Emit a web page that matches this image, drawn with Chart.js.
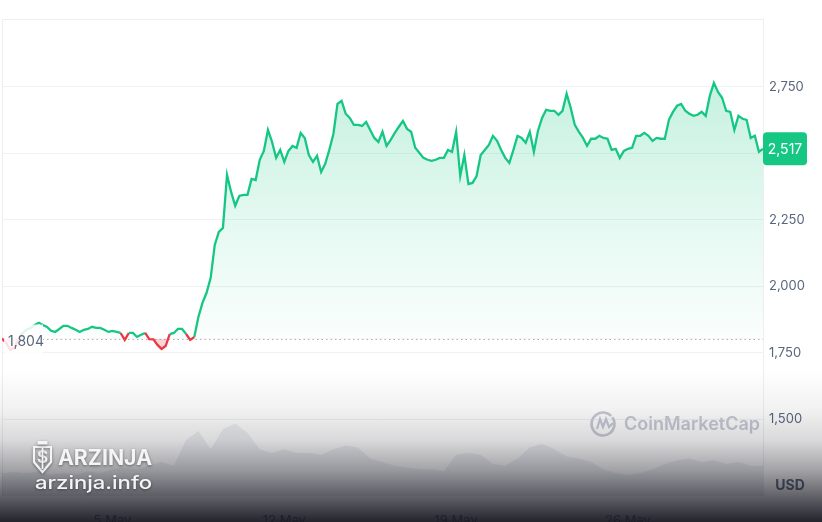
<!DOCTYPE html>
<html>
<head>
<meta charset="utf-8">
<script src="https://cdn.jsdelivr.net/npm/chart.js@4.4.1/dist/chart.umd.min.js"></script>
<style>
  html, body { margin: 0; padding: 0; background: #fff; }
  canvas { display: block; }
</style>
</head>
<body>
<canvas id="ethChart" width="822" height="522"></canvas>
<script>
// prix ETH/USD, un point toutes les 4 heures (30 avr 12h -> 31 mai 12h)
const basePrice = 1804;
const lastPrice = 2517;
const stepHours = 4;
const prices = [
  1804, 1788, 1761, 1769, 1799, 1825, 1837, 1844, 1855, 1863,
  1855, 1848, 1833, 1829, 1840, 1852, 1852, 1844, 1837, 1829,
  1837, 1840, 1848, 1844, 1844, 1837, 1829, 1833, 1829, 1825,
  1799, 1825, 1825, 1810, 1818, 1825, 1802, 1801, 1780, 1765,
  1776, 1821, 1825, 1840, 1840, 1821, 1799, 1810, 1885, 1938,
  1976, 2032, 2156, 2205, 2220, 2419, 2355, 2303, 2340, 2344,
  2344, 2404, 2400, 2476, 2509, 2588, 2543, 2483, 2513, 2468,
  2509, 2528, 2521, 2577, 2558, 2494, 2468, 2491, 2430, 2461,
  2513, 2573, 2686, 2697, 2649, 2633, 2607, 2607, 2603, 2618,
  2588, 2558, 2543, 2581, 2528, 2551, 2577, 2600, 2622, 2592,
  2581, 2521, 2502, 2483, 2476, 2472, 2476, 2483, 2483, 2513,
  2506, 2581, 2415, 2494, 2385, 2389, 2415, 2494, 2513, 2532,
  2566, 2547, 2513, 2483, 2464, 2513, 2566, 2558, 2540, 2581,
  2506, 2585, 2633, 2664, 2660, 2660, 2645, 2660, 2724, 2671,
  2607, 2581, 2558, 2528, 2555, 2555, 2566, 2558, 2555, 2513,
  2517, 2483, 2509, 2517, 2521, 2566, 2566, 2577, 2566, 2547,
  2558, 2555, 2555, 2626, 2656, 2679, 2686, 2660, 2649, 2641,
  2645, 2656, 2641, 2716, 2765, 2731, 2709, 2660, 2656, 2588,
  2641, 2630, 2626, 2558, 2566, 2506, 2517
];

// volume (milliards USD), un point toutes les 12 heures
const volStepHours = 12;
const volumes = [
  12, 12.6, 12, 13, 11, 12, 11, 13, 12, 14,
  15, 14, 16, 18, 16, 30, 35, 25, 36, 39,
  34, 25, 23, 25, 23, 23, 22, 25, 27, 26,
  20, 18, 16, 15, 14, 14, 13, 22, 23, 22,
  17, 16, 20, 26, 28, 25, 21, 20, 18, 14,
  12, 11, 12, 14, 17, 19, 20, 18, 19, 17,
  18, 16, 16
];

const xTickHours = [108, 276, 444, 612];
const xTickLabels = ['5 May', '12 May', '19 May', '26 May'];
const yTicks = [1500, 1750, 2000, 2250, 2500, 2750];

const green = '#16c784';
const red = '#ea3943';
const axisGrey = '#58667e';
const fontFamily = 'Inter, "Noto Sans", sans-serif';

const priceData = prices.map((p, i) => ({ x: i * stepHours, y: p }));
const volData = volumes.map((v, i) => ({ x: i * volStepHours, y: v }));

// cadre, filigrane et ligne de base
const decorPlugin = {
  id: 'decor',
  beforeDatasetsDraw(chart) {
    const { ctx, chartArea: a, scales } = chart;
    ctx.save();
    ctx.strokeStyle = '#eceef2';
    ctx.lineWidth = 1;
    ctx.strokeRect(a.left + 0.5, a.top + 0.5, a.right - a.left, a.bottom - a.top);

    // CoinMarketCap
    ctx.strokeStyle = '#c6cad4';
    ctx.fillStyle = '#c6cad4';
    ctx.lineWidth = 2.6;
    ctx.beginPath();
    ctx.arc(603, 424, 11.5, -0.2 * Math.PI, 1.75 * Math.PI, false);
    ctx.stroke();
    ctx.lineWidth = 2.2;
    ctx.beginPath();
    ctx.moveTo(597, 429);
    ctx.lineTo(600, 419);
    ctx.lineTo(603, 427);
    ctx.lineTo(606, 419);
    ctx.lineTo(609, 427);
    ctx.lineTo(613, 423);
    ctx.stroke();
    ctx.font = '600 18px ' + fontFamily;
    ctx.textBaseline = 'middle';
    ctx.fillText('CoinMarketCap', 624, 425);

    // ligne pointillée du prix d'ouverture
    const yb = Math.round(scales.y.getPixelForValue(basePrice)) + 0.5;
    ctx.strokeStyle = '#a6b0c3';
    ctx.lineWidth = 1;
    ctx.setLineDash([1.5, 3]);
    ctx.beginPath();
    ctx.moveTo(a.left, yb);
    ctx.lineTo(a.right, yb);
    ctx.stroke();
    ctx.restore();
  },
  afterDatasetsDraw(chart) {
    const { ctx, chartArea: a, scales } = chart;
    ctx.save();
    // étiquette 1,804
    const yb = scales.y.getPixelForValue(basePrice);
    ctx.fillStyle = 'rgba(255,255,255,0.85)';
    ctx.fillRect(4, yb - 14, 39, 30);
    ctx.fillStyle = axisGrey;
    ctx.font = '14px ' + fontFamily;
    ctx.textBaseline = 'middle';
    ctx.textAlign = 'left';
    ctx.fillText(basePrice.toLocaleString('en-US'), 8, yb + 3);

    // étiquette du dernier prix
    const yl = scales.y.getPixelForValue(lastPrice);
    ctx.fillStyle = green;
    ctx.beginPath();
    ctx.roundRect(a.right, yl - 16.5, 44, 33, 4);
    ctx.fill();
    ctx.fillStyle = '#ffffff';
    ctx.textAlign = 'center';
    ctx.fillText(lastPrice.toLocaleString('en-US'), a.right + 22, yl + 1);

    // USD
    ctx.fillStyle = axisGrey;
    ctx.font = 'bold 14px ' + fontFamily;
    ctx.fillText('USD', 790, 486);
    ctx.restore();
  },
  afterDraw(chart) {
    const { ctx, width, height } = chart;
    ctx.save();
    // voile sombre en bas
    const g = ctx.createLinearGradient(0, 370, 0, height);
    g.addColorStop(0, 'rgba(22,22,32,0)');
    g.addColorStop(0.26, 'rgba(22,22,32,0.06)');
    g.addColorStop(0.46, 'rgba(22,22,32,0.16)');
    g.addColorStop(0.66, 'rgba(22,22,32,0.4)');
    g.addColorStop(0.82, 'rgba(22,22,32,0.66)');
    g.addColorStop(1, 'rgba(22,22,32,0.94)');
    ctx.fillStyle = g;
    ctx.fillRect(0, 370, width, height - 370);

    // logo ARZINJA
    ctx.shadowColor = 'rgba(0,0,0,0.45)';
    ctx.shadowBlur = 3;
    ctx.shadowOffsetY = 1;
    ctx.strokeStyle = '#f4f4f6';
    ctx.fillStyle = '#f4f4f6';
    ctx.lineWidth = 2.2;
    ctx.beginPath();
    ctx.moveTo(34, 447);
    ctx.lineTo(51, 447);
    ctx.lineTo(51, 462);
    ctx.lineTo(42.5, 472);
    ctx.lineTo(34, 462);
    ctx.closePath();
    ctx.stroke();
    ctx.fillRect(37.5, 441, 10, 3.5);
    ctx.font = 'bold 17px ' + fontFamily;
    ctx.textAlign = 'center';
    ctx.textBaseline = 'middle';
    ctx.fillText('S', 42.5, 458);
    ctx.fillRect(41.6, 448, 1.8, 21);

    ctx.textAlign = 'left';
    ctx.font = 'bold 21px ' + fontFamily;
    const w1 = ctx.measureText('ARZINJA').width;
    ctx.save();
    ctx.translate(58, 459);
    ctx.scale(94 / w1, 1);
    ctx.fillText('ARZINJA', 0, 0);
    ctx.restore();

    ctx.font = '500 18px ' + fontFamily;
    const w2 = ctx.measureText('arzinja.info').width;
    ctx.save();
    ctx.translate(35, 484);
    ctx.scale(117 / w2, 1);
    ctx.fillText('arzinja.info', 0, 0);
    ctx.restore();
    ctx.restore();
  }
};

const ctx = document.getElementById('ethChart').getContext('2d');
const ethChart = new Chart(ctx, {
  type: 'line',
  data: {
    datasets: [
      {
        data: priceData,
        yAxisID: 'y',
        borderColor: green,
        borderWidth: 2.3,
        pointRadius: 0,
        tension: 0,
        order: 1,
        segment: {
          borderColor: c => (c.p0.parsed.y < basePrice || c.p1.parsed.y < basePrice) ? red : green
        },
        fill: { target: { value: basePrice }, below: 'rgba(234,57,67,0.22)' },
        backgroundColor: c => {
          const a = c.chart.chartArea;
          if (!a) return 'rgba(22,199,132,0.1)';
          const yb = c.chart.scales.y.getPixelForValue(basePrice);
          const g = c.chart.ctx.createLinearGradient(0, a.top + 70, 0, yb);
          g.addColorStop(0, 'rgba(22,199,132,0.24)');
          g.addColorStop(0.5, 'rgba(22,199,132,0.12)');
          g.addColorStop(1, 'rgba(22,199,132,0.02)');
          return g;
        }
      },
      {
        data: volData,
        yAxisID: 'vol',
        borderWidth: 0,
        pointRadius: 0,
        tension: 0,
        order: 2,
        fill: 'origin',
        backgroundColor: 'rgba(200,204,214,0.32)'
      }
    ]
  },
  options: {
    responsive: false,
    animation: false,
    layout: { padding: { left: 2, top: 19, right: 0, bottom: 0 } },
    plugins: { legend: { display: false }, tooltip: { enabled: false } },
    scales: {
      x: {
        type: 'linear',
        min: 0,
        max: (prices.length - 1) * stepHours,
        grid: { display: false },
        border: { display: false },
        afterBuildTicks: s => { s.ticks = xTickHours.map(v => ({ value: v })); },
        afterFit: s => { s.height = 27; },
        ticks: {
          autoSkip: false,
          maxRotation: 0,
          padding: 10,
          color: axisGrey,
          font: { family: fontFamily, size: 13 },
          callback: v => xTickLabels[xTickHours.indexOf(v)]
        }
      },
      y: {
        position: 'right',
        min: 1216,
        max: 3005,
        afterBuildTicks: s => { s.ticks = yTicks.map(v => ({ value: v })); },
        afterFit: s => { s.width = 59; },
        grid: { color: '#eff2f5', drawTicks: false },
        border: { display: true, color: '#eceef2' },
        ticks: {
          padding: 6,
          color: axisGrey,
          font: { family: fontFamily, size: 13 },
          callback: v => v.toLocaleString('en-US')
        }
      },
      vol: {
        display: false,
        min: 0,
        max: 260
      }
    }
  },
  plugins: [decorPlugin]
});
</script>
</body>
</html>
